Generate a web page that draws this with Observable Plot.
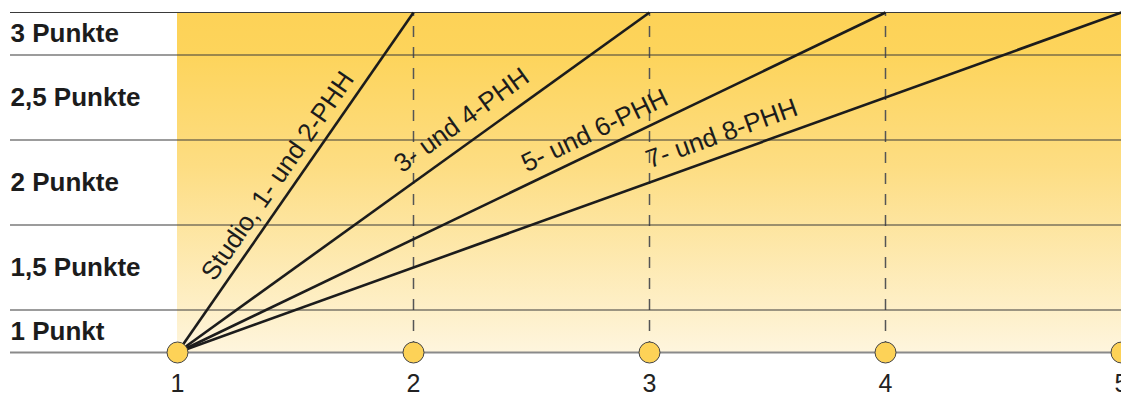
<!DOCTYPE html>
<html>
<head>
<meta charset="utf-8">
<script src="https://cdn.jsdelivr.net/npm/d3@7"></script>
<script src="https://cdn.jsdelivr.net/npm/@observablehq/plot@0.6"></script>
<style>
  html, body { margin: 0; padding: 0; background: #fff; }
  #chart svg { display: block; }
</style>
</head>
<body>
<div id="chart"></div>
<script>
// ---- data ----
const households = [1, 2, 3, 4, 5];                 // x-axis tick values
const lineLabels = ["Studio, 1- und 2-PHH", "3- und 4-PHH", "5- und 6-PHH", "7- und 8-PHH"];
const lineStartX = [1, 1, 1, 1];
const lineEndX = [2, 3, 4, 5];
const pointsMin = 1;
const pointsMax = 3;
const bandLabels = ["3 Punkte", "2,5 Punkte", "2 Punkte", "1,5 Punkte", "1 Punkt"];
const bandCenters = [2.875, 2.5, 2, 1.5, 1.125];
const bandEdges = [1.25, 1.75, 2.25, 2.75, 3];

// ---- layout ----
const W = 1121, H = 394;
const mTop = 12, mBottom = 42, mLeft = 10;
const xRange = [177, W];
const font = "'Liberation Sans', Arial, Helvetica, sans-serif";

const kx = (xRange[1] - xRange[0]) / (households[households.length - 1] - households[0]);
const ky = (H - mTop - mBottom) / (pointsMax - pointsMin);

const lines = lineLabels.map((label, i) => ({
  label, x1: lineStartX[i], x2: lineEndX[i], y1: pointsMin, y2: pointsMax
}));

// label placement along each line (fraction of length) and baseline offset (px)
const labelT = [0.19, 0.493, 0.5, 0.505];
const labelOff = [10, 14, 11, 13];

const labelMarks = lines.map((l, i) => {
  const angle = Math.atan2(ky * (l.y2 - l.y1), kx * (l.x2 - l.x1));
  const t = labelT[i];
  const d = labelOff[i];
  return Plot.text([l], {
    x: v => v.x1 + t * (v.x2 - v.x1),
    y: v => v.y1 + t * (v.y2 - v.y1),
    text: "label",
    rotate: -angle * 180 / Math.PI,
    textAnchor: "start",
    lineAnchor: "bottom",
    dx: -d * Math.sin(angle),
    dy: -d * Math.cos(angle),
    fontSize: 26,
    fill: "#1c1c1c"
  });
});

const defs = () => {
  const g = d3.create("svg:defs");
  const grad = g.append("linearGradient").attr("id", "bgGrad")
    .attr("x1", 0).attr("y1", 0).attr("x2", 0).attr("y2", 1);
  grad.append("stop").attr("offset", "0%").attr("stop-color", "#FDD257");
  grad.append("stop").attr("offset", "12%").attr("stop-color", "#FDD45B");
  grad.append("stop").attr("offset", "45%").attr("stop-color", "#FDDD82");
  grad.append("stop").attr("offset", "100%").attr("stop-color", "#FEF5DD");
  return g.node();
};

const chart = Plot.plot({
  width: W,
  height: H,
  marginTop: mTop,
  marginBottom: mBottom,
  marginLeft: mLeft,
  marginRight: 0,
  style: { fontFamily: font, background: "#fff", overflow: "visible" },
  x: { domain: [households[0], households[households.length - 1]], range: xRange, axis: null },
  y: { domain: [pointsMin, pointsMax], axis: null },
  marks: [
    defs,
    Plot.rect([{}], { x1: households[0], x2: households[households.length - 1], y1: pointsMin, y2: pointsMax, fill: "url(#bgGrad)" }),
    Plot.ruleX(households.slice(1, -1), { y1: pointsMin, y2: pointsMax, stroke: "#555", strokeWidth: 1.5, strokeDasharray: "11,10" }),
    Plot.ruleY(bandEdges, { stroke: "#3a3a3a", strokeWidth: 1.2 }),
    Plot.ruleY([pointsMin], { stroke: "#8a8a8a", strokeWidth: 2 }),
    Plot.link(lines, { x1: "x1", y1: "y1", x2: "x2", y2: "y2", stroke: "#1c1c1c", strokeWidth: 2.6 }),
    ...labelMarks,
    Plot.dot(households.map(h => ({ h, p: pointsMin })), { x: "h", y: "p", r: 10.5, fill: "#FDD257", stroke: "#444", strokeWidth: 1 }),
    Plot.text(bandLabels, { y: (d, i) => bandCenters[i], text: d => d, frameAnchor: "left", textAnchor: "start", fontSize: 26, fontWeight: "bold", fill: "#1c1c1c" }),
    Plot.axisX({ ticks: households, tickSize: 0, tickPadding: 22, fontSize: 25, tickFormat: d => String(d), color: "#222" })
  ]
});

document.getElementById("chart").appendChild(chart);
</script>
</body>
</html>
